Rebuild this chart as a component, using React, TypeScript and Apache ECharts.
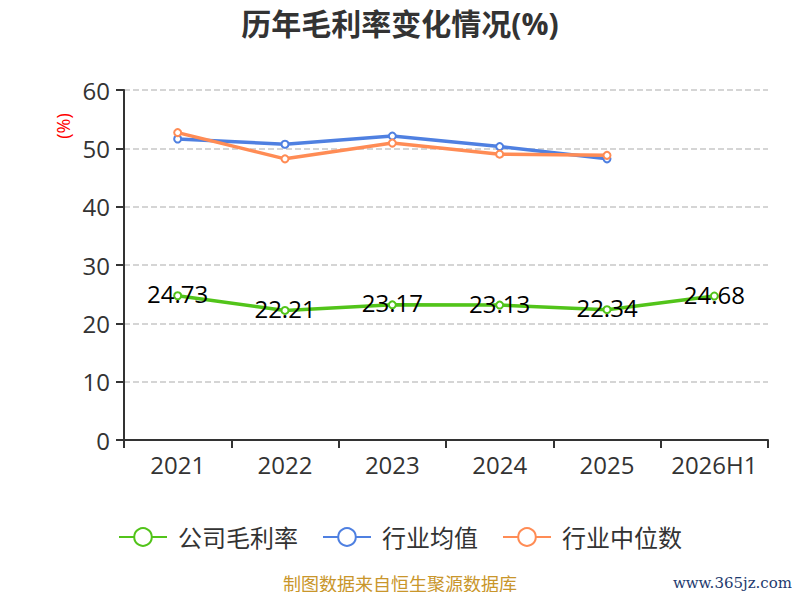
import React, { useEffect, useRef } from "react";
import * as echarts from "echarts";

const categories = ["2021", "2022", "2023", "2024", "2025", "2026H1"];
const companyGross = [24.73, 22.21, 23.17, 23.13, 22.34, 24.68];
const industryAvg = [51.6, 50.7, 52.1, 50.3, 48.2, null];
const industryMedian = [52.7, 48.2, 50.9, 49.0, 48.8, null];

export default function App() {
  const ref = useRef<HTMLDivElement>(null);
  useEffect(() => {
    if (!ref.current) return;
    const chart = echarts.init(ref.current, undefined, { renderer: "svg" });
    const font = "'Open Sans', 'Noto Sans CJK SC', sans-serif";
    chart.setOption({
      animation: false,
      textStyle: { fontFamily: font },
      title: {
        text: "历年毛利率变化情况(%)",
        left: "center",
        top: 3,
        textStyle: { fontSize: 30, fontWeight: "bold", color: "#333", fontFamily: font },
      },
      legend: {
        bottom: 46,
        left: "center",
        itemWidth: 48,
        itemHeight: 22,
        itemGap: 24,
        textStyle: { fontSize: 24, color: "#333", fontFamily: font, padding: [0, 0, 0, 6] },
        data: ["公司毛利率", "行业均值", "行业中位数"],
      },
      grid: { left: 124, right: 32, top: 90, bottom: 160 },
      xAxis: {
        type: "category",
        data: categories,
        boundaryGap: true,
        axisLine: { lineStyle: { color: "#333", width: 2 } },
        axisTick: { show: true, interval: 0, length: 8, lineStyle: { color: "#333", width: 2 } },
        axisLabel: { interval: 0, fontSize: 24, color: "#333", margin: 12, fontFamily: font },
      },
      yAxis: {
        type: "value",
        min: 0,
        max: 60,
        interval: 10,
        axisLine: { show: true, lineStyle: { color: "#333", width: 2 } },
        axisTick: { show: true, length: 8, lineStyle: { color: "#333", width: 2 } },
        axisLabel: { fontSize: 24, color: "#333", margin: 14, fontFamily: font },
        splitLine: { lineStyle: { type: "dashed", color: "#c8c8c8", width: 1.5 } },
      },
      series: [
        {
          name: "公司毛利率",
          type: "line",
          data: companyGross,
          symbol: "emptyCircle",
          symbolSize: 7,
          itemStyle: { color: "#52c41a" },
          lineStyle: { width: 3.5, color: "#52c41a" },
          label: { show: true, position: "inside", offset: [0, -2], fontSize: 24, color: "#000", fontFamily: font },
          z: 3,
        },
        {
          name: "行业均值",
          type: "line",
          data: industryAvg,
          symbol: "emptyCircle",
          symbolSize: 7,
          itemStyle: { color: "#4f80e1" },
          lineStyle: { width: 3.5, color: "#4f80e1" },
          z: 2,
        },
        {
          name: "行业中位数",
          type: "line",
          data: industryMedian,
          symbol: "emptyCircle",
          symbolSize: 7,
          itemStyle: { color: "#ff8c55" },
          lineStyle: { width: 3.5, color: "#ff8c55" },
          z: 2,
        },
      ],
      graphic: [
        {
          type: "text",
          x: 63,
          y: 126,
          rotation: Math.PI / 2,
          style: {
            text: "(%)",
            fontSize: 18,
            fill: "#ff0000",
            fontFamily: font,
            align: "center",
            verticalAlign: "middle",
          },
        },
        {
          type: "text",
          left: "center",
          top: 575,
          style: { text: "制图数据来自恒生聚源数据库", fontSize: 18, fill: "#c9962b", fontFamily: font },
        },
        {
          type: "text",
          right: 8,
          top: 575,
          style: { text: "www.365jz.com", fontSize: 15, fill: "#1e3a6e", fontFamily: "'DejaVu Serif', serif" },
        },
      ],
    });
    return () => chart.dispose();
  }, []);
  return <div ref={ref} style={{ width: 800, height: 600, margin: -8 }} />;
}
